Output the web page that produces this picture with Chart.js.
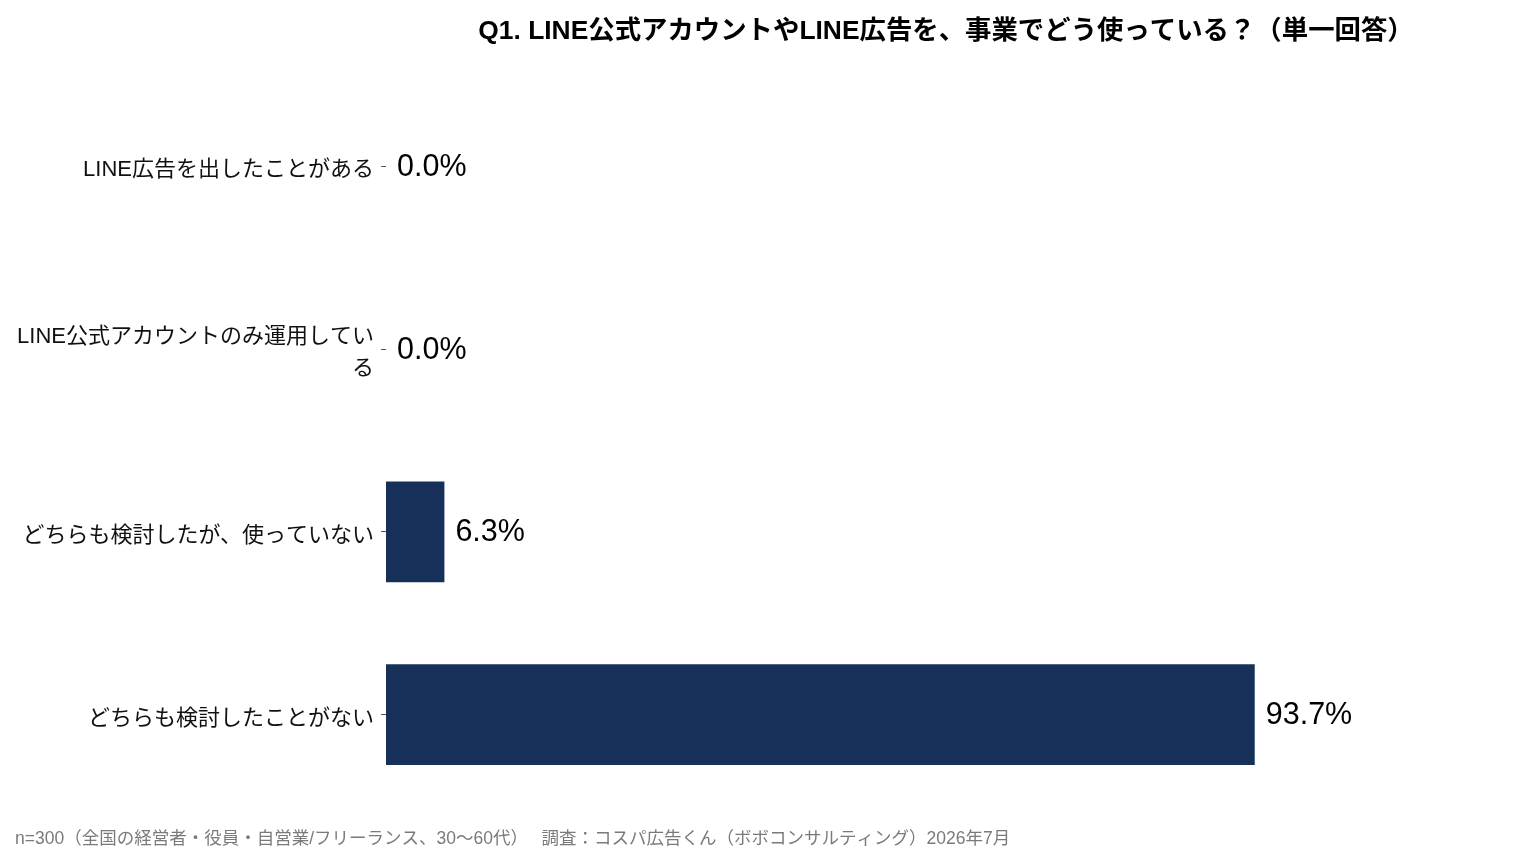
<!DOCTYPE html>
<html>
<head>
<meta charset="utf-8">
<script src="https://cdn.jsdelivr.net/npm/chart.js@4.4.1/dist/chart.umd.min.js"></script>
<style>
  html, body { margin: 0; padding: 0; background: #fff; }
  #wrap { width: 1536px; height: 858px; }
</style>
</head>
<body>
<div id="wrap"><canvas id="chart" width="1536" height="858"></canvas></div>
<script>
// Chart data
const categories = [
    'LINE広告を出したことがある',
    ['LINE公式アカウントのみ運用してい', 'る'],
    'どちらも検討したが、使っていない',
    'どちらも検討したことがない'
];
const shares = [0.0, 0.0, 6.3, 93.7];

const titleText = 'Q1. LINE公式アカウントやLINE広告を、事業でどう使っている？（単一回答）';
const footerText = 'n=300（全国の経営者・役員・自営業/フリーランス、30〜60代）　 調査：コスパ広告くん（ボボコンサルティング）2026年7月';

const FONT = '"Liberation Sans", "Noto Sans CJK JP", sans-serif';

// Title, footer and value labels
const decorations = {
    id: 'decorations',
    afterDatasetsDraw(chart) {
        const c = chart.ctx;
        const area = chart.chartArea;
        c.save();

        // title centred over the plot area
        c.font = 'bold 26.4px ' + FONT;
        c.fillStyle = '#000';
        c.textAlign = 'center';
        c.textBaseline = 'middle';
        c.fillText(titleText, (area.left + area.right) / 2, 32);

        // footer
        c.font = '17.5px ' + FONT;
        c.fillStyle = '#7a7a7a';
        c.textAlign = 'left';
        c.fillText(footerText, 15, 839);

        // value labels
        c.font = '30.5px ' + FONT;
        c.fillStyle = '#000';
        const meta = chart.getDatasetMeta(0);
        meta.data.forEach((bar, i) => {
            c.fillText(shares[i].toFixed(1) + '%', bar.x + 11, bar.y + 1);
        });
        c.restore();
    }
};

new Chart(document.getElementById('chart').getContext('2d'), {
    type: 'bar',
    data: {
        labels: categories,
        datasets: [{
            data: shares,
            backgroundColor: '#17305A',
            barPercentage: 0.55,
            categoryPercentage: 1.0
        }]
    },
    options: {
        indexAxis: 'y',
        responsive: false,
        animation: false,
        devicePixelRatio: 1,
        layout: { padding: { top: 75, bottom: 52, left: 0, right: 30 } },
        plugins: {
            legend: { display: false },
            tooltip: { enabled: false }
        },
        scales: {
            x: {
                display: false,
                min: 0,
                max: 120.8
            },
            y: {
                afterFit(scale) { scale.width = 386; },
                border: { display: false },
                grid: {
                    offset: false,
                    drawOnChartArea: false,
                    drawTicks: true,
                    tickLength: 5,
                    tickColor: '#555'
                },
                ticks: {
                    color: '#111',
                    padding: 7,
                    labelOffset: 4,
                    font: { family: FONT, size: 22, lineHeight: 1.47 }
                }
            }
        }
    },
    plugins: [decorations]
});
</script>
</body>
</html>
